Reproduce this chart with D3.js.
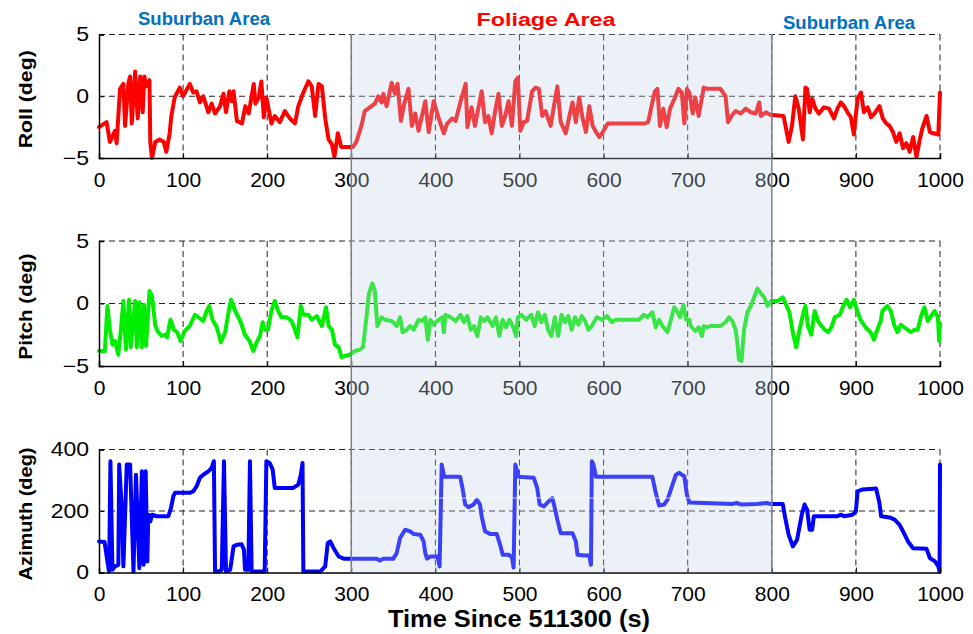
<!DOCTYPE html>
<html>
<head>
<meta charset="utf-8">
<script src="https://cdn.jsdelivr.net/npm/d3@7"></script>
<style>
  html, body { margin: 0; padding: 0; background: #fff; }
  svg { display: block; font-family: Arial, "Liberation Sans", sans-serif; }
</style>
</head>
<body>
<svg id="chart" width="973" height="634"></svg>
<script>
// ---- data ----
const timeTicks = [0, 100, 200, 300, 400, 500, 600, 700, 800, 900, 1000];
const attitudeTicks = [-5, 0, 5];
const azimuthTicks = [0, 200, 400];

const rollTime = [0,9,13,19,21,25,29,31,35,37,39,43,46,49,52,54,56,60,61,63,67,72,77,80,84,86,90,96,100,108,112,116,120,124,130,134,138,144,148,151,155,158,160,164,170,174,178,184,186,190,193,196,199,205,209,215,221,227,233,237,243,249,253,257,261,265,269,273,277,280,284,288,295,302,306,312,316,322,328,332,336,338,342,348,352,355,359,363,368,372,376,380,388,392,398,404,410,414,420,424,430,436,438,443,447,451,455,459,463,467,471,475,479,483,487,491,495,498,501,505,509,515,519,523,527,531,537,541,545,549,555,559,563,567,571,575,579,583,587,591,595,599,605,649,653,657,661,664,667,671,675,679,685,689,693,696,699,702,706,709,713,717,719,723,739,745,748,752,757,763,769,775,781,785,787,793,798,814,820,824,828,832,837,840,842,845,848,852,856,862,868,874,878,882,886,890,894,897.5,902,906,909.5,914,918,922,928,932,936,940,944,948,952,956,960,964,968,972,976,979,984,988,992,998,1000];
const rollDeg = [-2.5,-2.1,-3.7,-2.8,-3.8,0.6,1.0,-2.4,1.1,1.6,-2.2,2.0,-1.8,1.6,-1.3,1.6,0.8,1.3,-3.7,-5.0,-3.7,-3.5,-3.7,-4.5,-3.0,-1.6,-0.1,0.7,0,1.0,0.3,0.4,-0.5,0,-1.3,-0.6,-1.4,-0.8,0.2,-1.3,0.4,-0.4,0.4,-2.0,-2.2,-0.8,-1.4,1.0,-0.6,-0.1,1.2,-1.7,-0.1,-2.2,-1.6,-2.1,-1.2,-1.8,-2.2,-0.8,0.3,1.2,0.8,-1.6,1.0,0.8,-1.8,-3.5,-3.9,-4.9,-3.0,-4.1,-4.1,-4.1,-3.7,-2.4,-1.2,-0.9,-0.6,0,-0.5,0.2,-0.8,1.1,0.2,1.0,-2.0,-0.6,0.6,-2.4,-1.4,-2.8,-0.4,-2.9,-0.4,-1.8,-3.0,-2.2,-1.8,-2.0,-0.4,1.0,-2.5,-0.9,-2.4,-1.0,0.4,-2.1,-1.6,-3.0,-1.2,0.2,-2.4,-1.6,-0.4,-2.4,1.2,1.5,-2.8,-2.1,-2.0,0.4,0.7,0.6,-1.6,-1.2,-2.4,-0.8,0.8,-2.1,-3.0,-1.7,-0.5,-2.1,-0.1,-1.8,-2.9,-0.8,-2.4,-2.9,-3.3,-2.9,-2.2,-2.2,-2.1,-0.8,0.4,0.6,-2.4,-1.0,-2.5,-1.0,-0.1,0.6,0.3,-2.2,0.6,0.3,-1.4,-0.1,-1.6,-0.1,0.7,0.6,0.6,0,-2.1,-1.6,-1.2,-1.4,-1.0,-1.3,-1.4,-0.5,-1.6,-1.3,-1.5,-1.6,-3.7,-2.4,0,-1.0,-3.5,0.7,0.6,-1.3,-0.2,-1.0,-1.4,-0.9,-1.0,-1.8,-1.0,-0.5,-0.8,-1.3,-1.7,-3.1,-0.2,0.3,-1.3,-0.9,-1.7,-1.4,-0.8,-1.8,-2.2,-2.4,-2.9,-3.7,-3.0,-4.2,-3.8,-4.5,-3.3,-4.9,-3.5,-2.6,-1.6,-2.9,-3.0,-3.1,0.3];

const pitchTime = [0,7,10,13,16,19,23,26,29,32,35.7,37.7,43,45,48,51,53.5,56,60,63,67,70.5,74.5,78.5,81,85,89,93,97,102,108,114,118,124,128,131,135,140,145,150,154,157,162,168,173.6,179,183.5,187.5,191.5,194.6,197,201,205,209,213,217,223,229,233,236,240,243,249,253,259,265,270,273,277,280.6,285,288.5,292.5,298,304,310,314,318,321,325,328,331,336,340,348,354,358,361,366,370,374,380,384,388,391,394,398,402,408,410,412,418,424,430,434,438,442,446,450,454,458,462,468,472,476,480,484,488,492,496,498,502,508,514,518,522,526,530,534,538,542,546,550,554,558,562,566,570,574,578,582,586,592,598,604,610,614,642,648,652,658,662,666,670,676,680,684,688,691,695,698,702,703.6,709,713,717,719,723,727,739,745,749,753,757,759,761,764,767,771,775,779,783,787,791,795,799,807,813,817,821,825,829,833,837,840,843,847,851,855,859,863,867,871,875,881,885,889,893,897.6,901.6,905.5,911.5,917.5,921.5,925.5,929.5,931.5,937.5,941.5,945.5,949.5,953.5,957.5,961.5,965.5,969.5,973.5,977.5,981.5,985.5,989.5,993.5,997.5,999,1000];
const pitchDeg = [-3.8,-3.8,-0.2,-2.1,-3.3,-3.0,-4.1,-2.1,0.2,-3.7,0.3,-3.5,0.2,-3.5,0.1,-3.5,-0.1,-3.4,1.0,0.6,-1.8,-2.3,-2.6,-2.5,-2.7,-1.3,-2.1,-2.3,-3.0,-2.2,-1.8,-0.9,-1.1,-1.4,-0.6,-0.2,-1.3,-1.9,-3.1,-2.3,-0.7,0.3,-0.6,-1.4,-2.5,-3.0,-3.8,-3.1,-2.6,-1.5,-2.1,-2.1,-0.6,0.2,-0.6,-1.1,-1.1,-1.4,-2.1,-2.7,-0.2,-0.9,-0.9,-1.3,-1.0,-1.8,-0.3,-1.8,-2.1,-3.3,-3.5,-4.3,-4.2,-4.1,-3.8,-3.7,-3.5,-1.1,0.8,1.6,1.0,-1.8,-1.1,-1.3,-1.4,-1.8,-1.1,-2.3,-2.1,-1.8,-2.1,-1.3,-1.4,-1.1,-2.9,-1.3,-1.7,-1.4,-1.1,-2.3,-0.9,-1.1,-1.4,-0.9,-1.5,-1.0,-2.1,-1.8,-2.6,-1.1,-1.4,-1.1,-1.8,-1.1,-2.6,-1.3,-1.9,-1.3,-1.8,-2.6,-1.1,-0.9,-1.3,-0.9,-1.8,-0.7,-1.5,-0.9,-2.1,-2.6,-1.1,-2.6,-0.9,-1.5,-1.0,-2.1,-1.1,-1.7,-1.0,-1.4,-2.1,-1.8,-1.1,-1.3,-1.0,-1.5,-1.3,-1.3,-0.9,-1.1,-0.7,-1.9,-1.3,-1.8,-2.3,-1.3,-0.3,-0.7,-1.1,-0.1,-1.3,-1.3,-1.8,-2.2,-1.9,-2.6,-1.8,-1.9,-1.8,-1.8,-1.5,-1.1,-1.4,-2.1,-3.1,-4.5,-4.6,-2.1,-0.7,-0.2,0.5,1.2,0.8,0.5,-0.2,0.2,0.2,0.5,-0.1,-0.7,-2.3,-3.5,-2.1,-0.9,-0.2,-1.8,-2.5,-0.6,-1.4,-1.8,-2.1,-2.3,-1.9,-1.1,-0.9,-0.2,0.3,-0.3,0.3,-0.6,-1.3,-1.9,-2.3,-2.9,-2.1,-1.4,-0.6,-0.2,-0.6,-1.7,-2.3,-1.7,-1.9,-2.1,-2.3,-2.1,-2.1,-1.0,-0.3,-1.4,-1.0,-0.6,-1.1,-3.0,-1.6];

const azimuthTime = [0,6.6,10,12,13.6,16,19,23,24,27,29,33,37,41,44,48,51,53,55.5,57.5,58.6,61,63,68.5,82.5,85.6,88.4,90.4,108,112,116,120,124,130,134,136.6,138,142,146,148.6,151,156,160,164,169.6,172.4,173.6,177.6,179.5,181.5,197,199,203,206.5,209,231,237,240,242,243,263,269,272,275,279,285,291,330,334,338,350,354,358,364,370,374,382,386,388,390,394,402.6,405,407.5,410.5,429.5,432.5,435.4,439.4,445.3,449.3,453,455,459,465,473,477,480,487,491,493,495,499,517,521,524,529,535,539,541,545,549,563,567,569,577,583,585,586,588,591,658,662,666,672,676,682,686,690,693,696,699,702,719,754,758,764,782,794,798,813,816,820,825,830,836,839,842,845,848,850,878,882,886,896,900,902,908,924,928,930,940,946,952,958,962,968,984,988,994,998,999.5,1000];
const azimuthDeg = [101,99,36,3,362,9,20,25,351,210,20,351,351,3,318,14,329,25,329,36,188,166,188,183,183,210,248,259,259,264,280,308,318,329,340,362,3,3,9,362,3,9,85,90,92,74,9,9,362,3,3,362,356,335,275,275,286,318,356,3,3,20,96,101,79,52,45,45,39,45,45,63,112,139,134,125,123,101,63,45,52,52,20,351,311,311,270,221,212,221,237,221,183,134,125,125,90,58,58,49,16,351,311,308,275,221,215,232,242,221,172,128,128,101,58,55,55,25,362,351,311,311,259,218,221,237,286,318,324,318,313,253,228,226,223,226,221,223,226,223,223,177,123,85,106,193,221,204,139,139,183,183,188,183,188,199,264,270,273,226,183,179,172,155,123,101,79,77,47,36,20,3,351];

const regionNames = ["Suburban Area", "Foliage Area", "Suburban Area"];
const regionColors = ["#0070c0", "#ff0000", "#0070c0"];
const foliageSpan = [300, 800];

// ---- layout ----
const svg = d3.select("#chart");
const x = d3.scaleLinear().domain([0, 1000]).range([99, 940]);

const panels = [
  { label: "Roll (deg)", time: rollTime, vals: rollDeg, domain: [-5, 5], ticks: attitudeTicks,
    top: 34.5, bottom: 158, color: "#ff0000", labelLen: 98 },
  { label: "Pitch (deg)", time: pitchTime, vals: pitchDeg, domain: [-5, 5], ticks: attitudeTicks,
    top: 241, bottom: 366, color: "#00ee00", labelLen: 106 },
  { label: "Azimuth (deg)", time: azimuthTime, vals: azimuthDeg, domain: [0, 400], ticks: azimuthTicks,
    top: 449.5, bottom: 572.5, color: "#0000ff", labelLen: 133 }
];

panels.forEach(p => {
  const y = d3.scaleLinear().domain(p.domain).range([p.bottom, p.top]);
  const g = svg.append("g");

  // dashed grid, including the top and right frame edges
  g.append("g").selectAll("line").data(timeTicks.slice(1)).join("line")
    .attr("x1", d => x(d)).attr("x2", d => x(d))
    .attr("y1", p.top).attr("y2", p.bottom)
    .attr("stroke", "#222").attr("stroke-width", 1).attr("stroke-dasharray", "6,4");
  g.append("g").selectAll("line").data(p.ticks.slice(1)).join("line")
    .attr("x1", x(0)).attr("x2", x(1000))
    .attr("y1", d => y(d)).attr("y2", d => y(d))
    .attr("stroke", "#222").attr("stroke-width", 1).attr("stroke-dasharray", "6,4");

  // data line
  const pts = p.time.map((t, i) => [t, p.vals[i]]);
  g.append("path")
    .datum(pts)
    .attr("fill", "none")
    .attr("stroke", p.color)
    .attr("stroke-width", 4)
    .attr("stroke-linejoin", "round")
    .attr("stroke-linecap", "round")
    .attr("d", d3.line().x(d => x(d[0])).y(d => y(d[1])));

  // axes
  const xAxis = d3.axisBottom(x).tickValues(timeTicks).tickSize(-5).tickPadding(14).tickFormat(d3.format("d"));
  const gx = g.append("g").attr("transform", `translate(0,${p.bottom})`).call(xAxis);
  gx.select(".domain").attr("stroke", "#000").attr("stroke-width", 1.5);
  gx.selectAll(".tick line").attr("stroke", "#000");
  gx.selectAll(".tick text").attr("font-size", 21).attr("fill", "#000")
    .attr("font-family", "Arial, 'Liberation Sans', sans-serif");

  const yAxis = d3.axisLeft(y).tickValues(p.ticks).tickSize(-5).tickPadding(10).tickFormat(d3.format("d"));
  const gy = g.append("g").attr("transform", `translate(${x(0)},0)`).call(yAxis);
  gy.select(".domain").attr("stroke", "#000").attr("stroke-width", 1.5);
  gy.selectAll(".tick line").attr("stroke", "#000");
  gy.selectAll(".tick text").attr("font-size", 20).attr("fill", "#000")
    .attr("font-family", "Arial, 'Liberation Sans', sans-serif")
    .attr("transform", "scale(1.15,1)").attr("x", -10 / 1.15);

  // y-axis title
  svg.append("text")
    .attr("transform", `translate(25,${(p.top + p.bottom) / 2 + 3}) rotate(-90)`)
    .attr("text-anchor", "middle")
    .attr("dy", "0.35em")
    .attr("font-size", 19)
    .attr("font-weight", "bold")
    .attr("textLength", p.labelLen)
    .attr("lengthAdjust", "spacingAndGlyphs")
    .text(p.label);
});

// foliage span: translucent overlay across all three panels
const shade = svg.append("g");
shade.append("rect")
  .attr("x", x(foliageSpan[0])).attr("width", x(foliageSpan[1]) - x(foliageSpan[0]))
  .attr("y", 34).attr("height", 572.5 - 34)
  .attr("fill", "rgb(193,209,229)").attr("fill-opacity", 0.31);
shade.append("line")
  .attr("x1", x(foliageSpan[0])).attr("x2", x(foliageSpan[1]))
  .attr("y1", 498).attr("y2", 498)
  .attr("stroke", "#ffffff").attr("stroke-opacity", 0.35).attr("stroke-width", 2);
shade.selectAll("line.edge").data(foliageSpan).join("line")
  .attr("class", "edge")
  .attr("x1", d => x(d)).attr("x2", d => x(d))
  .attr("y1", 34).attr("y2", 572.5)
  .attr("stroke", "#7d8288").attr("stroke-width", 1.5);

// region labels
const regionPos = [[204, 25, 132], [546, 26, 139], [849, 29, 132]];
svg.selectAll("text.region").data(regionNames).join("text")
  .attr("class", "region")
  .attr("x", (d, i) => regionPos[i][0])
  .attr("y", (d, i) => regionPos[i][1])
  .attr("text-anchor", "middle")
  .attr("font-size", 18)
  .attr("font-weight", "bold")
  .attr("textLength", (d, i) => regionPos[i][2])
  .attr("lengthAdjust", "spacingAndGlyphs")
  .attr("fill", (d, i) => regionColors[i])
  .text(d => d);

// x-axis title
svg.append("text")
  .attr("x", 519).attr("y", 627)
  .attr("text-anchor", "middle")
  .attr("font-size", 23)
  .attr("font-weight", "bold")
  .attr("textLength", 262)
  .attr("lengthAdjust", "spacingAndGlyphs")
  .text("Time Since 511300 (s)");
</script>
</body>
</html>
